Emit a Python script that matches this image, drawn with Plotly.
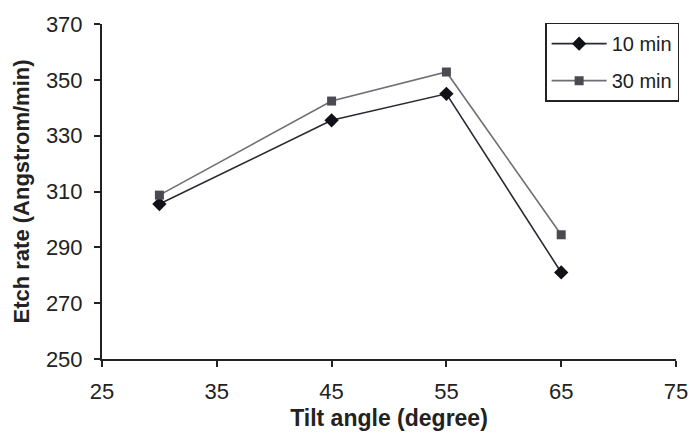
import plotly.graph_objects as go

# Etch rate vs. tilt angle for two etch durations
tilt_angle = [30, 45, 55, 65]
rate_10min = [305.5, 335.5, 345, 281]
rate_30min = [308.7, 342.4, 352.8, 294.5]

x_ticks = [25, 35, 45, 55, 65, 75]
y_ticks = [250, 270, 290, 310, 330, 350, 370]

FONT = "Liberation Sans, Arial, sans-serif"

fig = go.Figure()
fig.add_trace(go.Scatter(
    x=tilt_angle, y=rate_10min, name="10 min", mode="lines+markers",
    legendgroup="a",
    line=dict(color="#2a2a33", width=1.6),
    marker=dict(symbol="diamond", size=11, color="#111118"),
))
fig.add_trace(go.Scatter(
    x=tilt_angle, y=rate_30min, name="30 min", mode="lines+markers",
    legendgroup="b",
    line=dict(color="#6e6e74", width=1.6),
    marker=dict(symbol="square", size=9, color="#4a4a50"),
))

fig.update_layout(
    width=690, height=433,
    margin=dict(l=102, r=14, t=24, b=74, autoexpand=False),
    paper_bgcolor="white", plot_bgcolor="white",
    font=dict(family=FONT, color="#222", size=20),
    legend=dict(
        x=0.772, y=1.004, xanchor="left", yanchor="top",
        bordercolor="#222", borderwidth=1.5, bgcolor="white",
        font=dict(size=20, color="#222"),
        tracegroupgap=8,
        itemwidth=55,
    ),
    xaxis=dict(
        range=[25, 75], tickvals=x_ticks, ticktext=[str(v) for v in x_ticks],
        showgrid=False, zeroline=False, automargin=False,
        showline=True, linecolor="#222", linewidth=2,
        ticks="outside", ticklen=6, tickwidth=1.5, tickcolor="#222",
        tickfont=dict(size=22), ticklabelstandoff=6,
        title=dict(text="<b>Tilt angle (degree)</b>", font=dict(size=23), standoff=6),
    ),
    yaxis=dict(
        range=[250, 370], tickvals=y_ticks, ticktext=[str(v) for v in y_ticks],
        showgrid=False, zeroline=False, automargin=False,
        showline=True, linecolor="#222", linewidth=2,
        ticks="outside", ticklen=6, tickwidth=1.5, tickcolor="#222",
        tickfont=dict(size=22), ticklabelstandoff=7,
        title=dict(text="<b>Etch rate (Angstrom/min)</b>", font=dict(size=22), standoff=10),
    ),
)

fig.write_html("out.html")
